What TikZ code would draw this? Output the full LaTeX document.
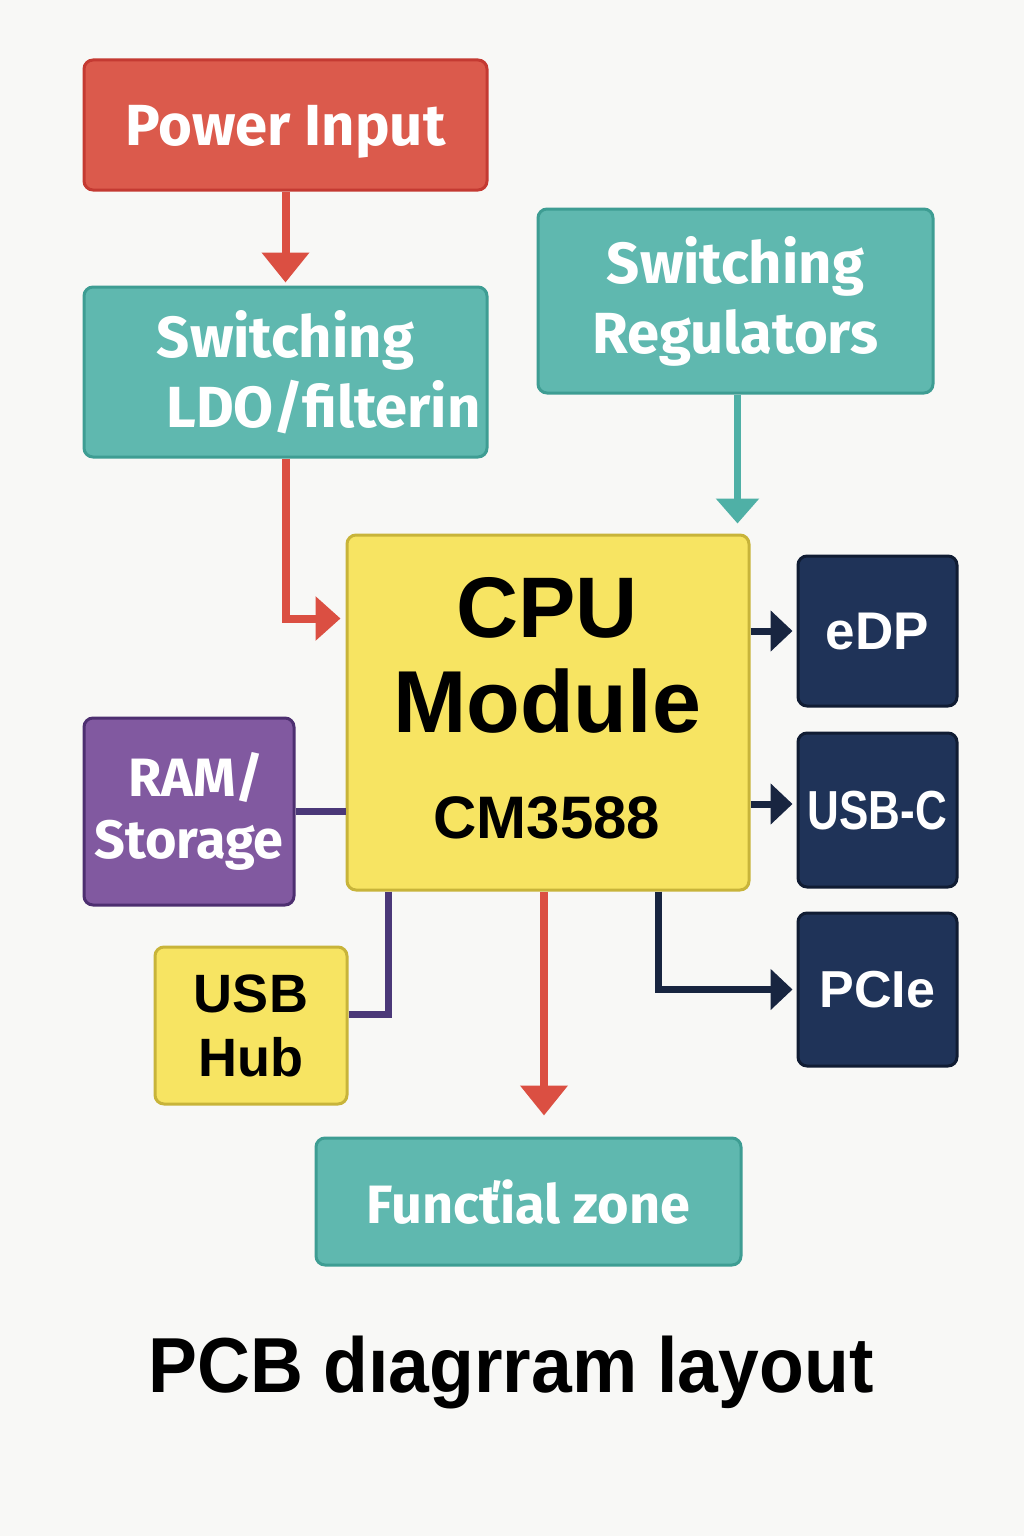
\documentclass[tikz,border=0pt]{standalone}
\usepackage{fontspec}
\setmainfont{Liberation Sans}
\newfontfamily\roundsans{Fira Sans}
\usepackage{tikz}
\usetikzlibrary{arrows.meta}
\usetikzlibrary{calc}
\definecolor{pagecolor}{RGB}{248,248,246}

\begin{document}
\begin{tikzpicture}[x=1pt, y=-1pt,
    box/.style={line width=3pt, rounded corners=9pt, inner sep=0pt},
    redbox/.style={box, fill=pwrred, draw=pwrredline},
    tealbox/.style={box, fill=tealfill, draw=tealline},
    yellowbox/.style={box, fill=cpuyellow, draw=cpuyellowline},
    navybox/.style={box, fill=navyfill, draw=navyline, text=white},
    purplebox/.style={box, fill=purplefill, draw=purpleline},
    wlbl/.style={text=white, font=\roundsans\bfseries\fontsize{#1}{70}\selectfont},
    blbl/.style={font=\bfseries\fontsize{#1}{64}\selectfont},
    wire/.style={line width=#1},
    redtip/.style={-{Triangle[width=46pt,length=30pt]}},
    navytip/.style={-{Triangle[width=40pt,length=22pt]}}]
    \definecolor{pwrred}{RGB}{219,90,76}
    \definecolor{pwrredline}{RGB}{196,58,50}
    \definecolor{wirered}{RGB}{219,79,66}
    \definecolor{tealfill}{RGB}{95,184,175}
    \definecolor{tealline}{RGB}{62,157,147}
    \definecolor{wireteal}{RGB}{79,176,166}
    \definecolor{cpuyellow}{RGB}{247,228,98}
    \definecolor{cpuyellowline}{RGB}{200,180,58}
    \definecolor{navyfill}{RGB}{31,51,88}
    \definecolor{navyline}{RGB}{16,28,51}
    \definecolor{wirenavy}{RGB}{24,37,64}
    \definecolor{purplefill}{RGB}{129,89,160}
    \definecolor{purpleline}{RGB}{77,47,112}
    \definecolor{wirepurple}{RGB}{75,56,120}

    \fill[pagecolor] (0,0) rectangle (1024,1536);
    \useasboundingbox (0,0) rectangle (1024,1536);

    % power supply chain
    \node[redbox, minimum width=403pt, minimum height=130pt, text depth=0pt, wlbl=58] (pwr) at (285.5,125) {Power Input};
    \node[tealbox, minimum width=403pt, minimum height=170pt, align=center, wlbl=58] (ldo) at (285.5,372) {Switching\\\hspace*{76pt}LDO/filterin};
    \node[tealbox, minimum width=395pt, minimum height=184pt, align=center, wlbl=58] (reg) at (735.5,301) {Switching\\Regulators};

    % cpu module
    \node[yellowbox, minimum width=402pt, minimum height=355pt] (cpu) at (548,712.5) {};
    \node[anchor=base, font=\bfseries\fontsize{86}{86}\selectfont] (cputitle) at (547,637) {CPU};
    \node[anchor=base, font=\bfseries\fontsize{88}{88}\selectfont] (cpumodule) at (547,732) {Module};
    \node[anchor=base, font=\bfseries\fontsize{60}{60}\selectfont] (cpuname) at (547,838) {CM3588};

    % interfaces
    \node[navybox, minimum width=159pt, minimum height=150pt, text depth=0pt, blbl=53] (edp) at (877.5,631) {eDP};
    \node[navybox, minimum width=159pt, minimum height=154pt, text depth=0pt, blbl=55] (usbc) at (877.5,810) {\scalebox{0.8}[1]{USB-C}};
    \node[navybox, minimum width=159pt, minimum height=153pt, text depth=0pt, blbl=52] (pcie) at (877.5,989.5) {PCIe};

    \node[purplebox, minimum width=210pt, minimum height=187pt, align=center, text=white, font=\roundsans\bfseries\fontsize{54}{62}\selectfont] (ram) at (189,811.5) {\hspace*{14pt}RAM/\\Storage};
    \node[yellowbox, minimum width=192pt, minimum height=157pt, align=center, blbl=54] (hub) at (251,1025.5) {USB\\Hub};
    \node[tealbox, minimum width=425pt, minimum height=127pt, text depth=0pt, wlbl=54] (func) at (528.5,1201.5) {Funcťial zone};

    \node[anchor=base, font=\bfseries\fontsize{78}{78}\selectfont] (title) at (511,1392) {\scalebox{0.94}[1]{PCB dıagrram layout}};

    % connectors
    \draw[wire=8pt, wirered, redtip, shorten >=3pt] (pwr) -- (ldo);
    \draw[wire=8pt, wirered, -{Triangle[width=43pt,length=25pt]}, shorten >=5pt] (ldo.south) |- ([yshift=94pt]cpu.west);
    \draw[wire=7pt, wireteal, -{Triangle[width=42pt,length=25pt]}, shorten >=10pt] ([xshift=2pt]reg.south) -- ([xshift=2pt]reg.south |- cpu.north);
    \draw[wire=7pt, wirepurple] (ram.east) -- (ram.east -| cpu.west);
    \draw[wire=7pt, wirepurple] ([xshift=-160pt]cpu.south) |- ([yshift=11pt]hub.east);
    \draw[wire=7pt, wirenavy, navytip, shorten >=4pt] (cpu.east |- edp.west) -- (edp.west);
    \draw[wire=7pt, wirenavy, navytip, shorten >=4pt] ([yshift=6pt]cpu.east |- usbc.west) -- ([yshift=6pt]usbc.west);
    \draw[wire=7pt, wirenavy, navytip, shorten >=4pt] ([xshift=110pt]cpu.south) |- (pcie.west);
    \draw[wire=8pt, wirered, redtip, shorten >=21pt] ([xshift=-4pt]cpu.south) -- ([xshift=-4pt]cpu.south |- func.north);

\end{tikzpicture}
\end{document}
